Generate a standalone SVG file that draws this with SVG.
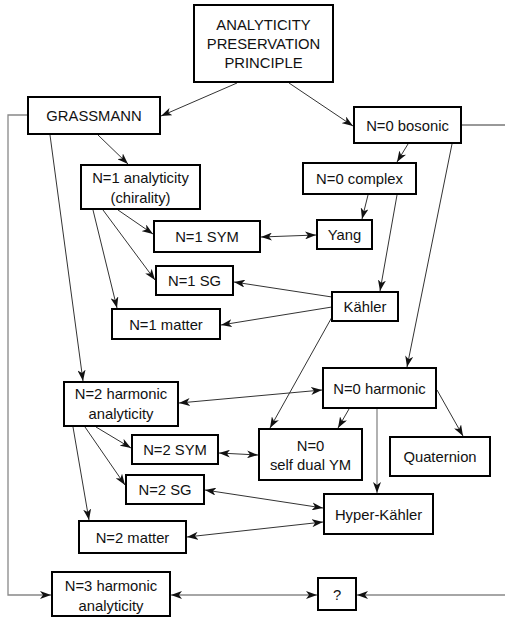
<svg xmlns="http://www.w3.org/2000/svg" width="505" height="617" viewBox="0 0 505 617">
<defs>
<marker id="ah" markerUnits="userSpaceOnUse" markerWidth="12" markerHeight="8" refX="11" refY="4" orient="auto-start-reverse" viewBox="0 0 12 8">
<path d="M0,0 L11,4 L0,8 L3,4 Z" fill="#111"/>
</marker>
</defs>
<style>
rect{fill:#fff;stroke:#000;stroke-width:2}
text{font-family:"Liberation Sans",Arial,sans-serif;font-size:14.8px;fill:#111;text-anchor:middle}
.c{fill:none;stroke:#333;stroke-width:1}
.g{fill:none;stroke:#888;stroke-width:1.3}
.e{marker-end:url(#ah)}
.b{marker-start:url(#ah);marker-end:url(#ah)}
</style>
<rect x="0" y="0" width="505" height="617" style="fill:#fff;stroke:none"/>
<g id="connectors">
<path class="c e" d="M237,83 L161,116"/>
<path class="c e" d="M289,83 L353,126"/>
<path class="c e" d="M98,135 L128,164"/>
<path class="c e" d="M50,135 L83,381"/>
<path class="c e" d="M408,144 L397,162"/>
<path class="c e" d="M452,144 L407,367"/>
<path class="c e" d="M118,210 L153,234"/>
<path class="c e" d="M103,210 L155,280"/>
<path class="c e" d="M93,210 L117,308"/>
<path class="c e" d="M368,195 L362,219"/>
<path class="c e" d="M397,195 L380,291"/>
<path class="c b" d="M261,237 L316,235"/>
<path class="c e" d="M332,297 L234,282"/>
<path class="c e" d="M332,307 L221,325"/>
<path class="c e" d="M332,317 L270,428"/>
<path class="c b" d="M179,403 L322,390"/>
<path class="c e" d="M349,409 L338,428"/>
<path class="c e" d="M437,390 L463,436"/>
<path class="g e" d="M377,409 L377,493"/>
<path class="c e" d="M96,427 L131,448"/>
<path class="c e" d="M85,427 L125,485"/>
<path class="c e" d="M73,427 L89,520"/>
<path class="c b" d="M219,453 L258,455"/>
<path class="c b" d="M205,490 L323,508"/>
<path class="c b" d="M187,537 L323,522"/>
<path class="g b" d="M171,595 L317,595"/>
<path class="c" d="M462,125 L505,125"/>
<path class="g e" d="M505,595 L357,595"/>
<path class="g e" d="M28,115 L8,115 L8,595 L51,595"/>
</g>
<g id="app"><rect x="194" y="5" width="139" height="77"/><text x="263.5" y="29.5">ANALYTICITY</text><text x="263.5" y="48.5">PRESERVATION</text><text x="263.5" y="67.5">PRINCIPLE</text></g>
<g id="grassmann"><rect x="28" y="97" width="132" height="37"/><text x="94" y="121">GRASSMANN</text></g>
<g id="n0bosonic"><rect x="354" y="107" width="107" height="36"/><text x="407.5" y="130.5">N=0 bosonic</text></g>
<g id="n1analyticity"><rect x="81" y="165" width="119" height="44"/><text x="140.5" y="182.5">N=1 analyticity</text><text x="140.5" y="202.5">(chirality)</text></g>
<g id="n0complex"><rect x="303" y="163" width="113" height="31"/><text x="359.5" y="184">N=0 complex</text></g>
<g id="n1sym"><rect x="154" y="221" width="106" height="31"/><text x="207" y="242">N=1 SYM</text></g>
<g id="yang"><rect x="317" y="220" width="55" height="29"/><text x="344.5" y="240">Yang</text></g>
<g id="n1sg"><rect x="156" y="266" width="77" height="29"/><text x="194.5" y="286">N=1 SG</text></g>
<g id="kahler"><rect x="332" y="292" width="66" height="29"/><text x="365" y="312">Kähler</text></g>
<g id="n1matter"><rect x="112" y="309" width="108" height="30"/><text x="166" y="329.5">N=1 matter</text></g>
<g id="n2harmonic"><rect x="64" y="382" width="114" height="44"/><text x="121" y="398.5">N=2 harmonic</text><text x="121" y="418.5">analyticity</text></g>
<g id="n0harmonic"><rect x="323" y="368" width="113" height="40"/><text x="379.5" y="393.5">N=0 harmonic</text></g>
<g id="n2sym"><rect x="132" y="435" width="86" height="29"/><text x="175" y="455">N=2 SYM</text></g>
<g id="selfdual"><rect x="259" y="429" width="103" height="51"/><text x="310.5" y="450.5">N=0</text><text x="310.5" y="469.5">self dual YM</text></g>
<g id="quaternion"><rect x="390" y="437" width="100" height="39"/><text x="440" y="462">Quaternion</text></g>
<g id="n2sg"><rect x="126" y="475" width="78" height="29"/><text x="165" y="495">N=2 SG</text></g>
<g id="hyperkahler"><rect x="324" y="494" width="109" height="40"/><text x="378.5" y="519.5">Hyper-Kähler</text></g>
<g id="n2matter"><rect x="79" y="521" width="107" height="32"/><text x="132.5" y="542.5">N=2 matter</text></g>
<g id="n3harmonic"><rect x="52" y="572" width="118" height="44"/><text x="111" y="590.5">N=3 harmonic</text><text x="111" y="610.5">analyticity</text></g>
<g id="unknown"><rect x="318" y="578" width="38" height="32"/><text x="337" y="599.5">?</text></g>
</svg>
